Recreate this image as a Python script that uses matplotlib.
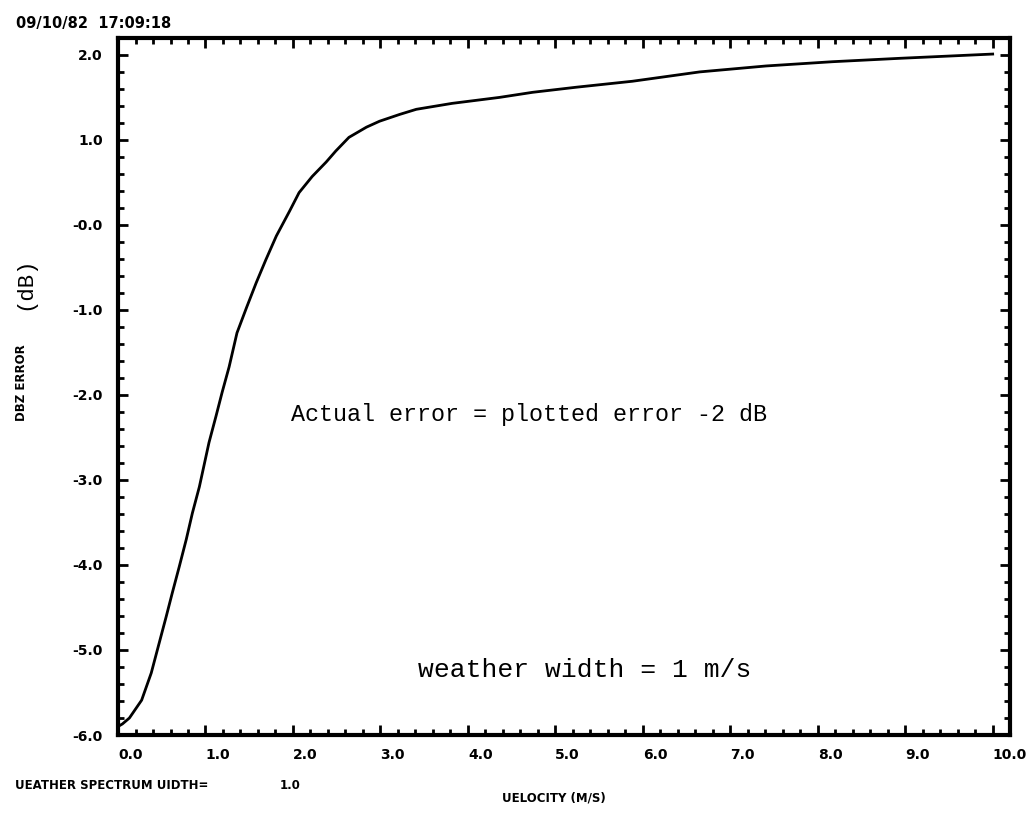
import numpy as np
import matplotlib
matplotlib.use("Agg")
import matplotlib.pyplot as plt
from matplotlib.ticker import MultipleLocator

# curve: velocity (m/s) vs DBZ error (dB)
velocity = [0.0, 0.05, 0.13, 0.27, 0.38, 0.47, 0.55, 0.62, 0.70, 0.78, 0.85,
            0.93, 1.04, 1.12, 1.19, 1.27, 1.36, 1.47, 1.58, 1.69, 1.81, 1.96,
            2.07, 2.22, 2.38, 2.49, 2.64, 2.84, 2.99, 3.22, 3.41, 3.82, 4.36,
            4.74, 5.24, 5.88, 6.65, 7.41, 8.17, 8.94, 10.0]
dbz_error = [-5.90, -5.87, -5.80, -5.59, -5.27, -4.92, -4.61, -4.33, -4.02,
             -3.70, -3.39, -3.08, -2.56, -2.25, -1.97, -1.67, -1.27, -0.97,
             -0.68, -0.41, -0.13, 0.16, 0.38, 0.57, 0.74, 0.87, 1.03, 1.15,
             1.22, 1.30, 1.36, 1.43, 1.50, 1.56, 1.62, 1.69, 1.80, 1.87, 1.92,
             1.96, 2.01]

x_ticks = [0, 1, 2, 3, 4, 5, 6, 7, 8, 9, 10]
x_labels = ["0.0", "1.0", "2.0", "3.0", "4.0", "5.0", "6.0", "7.0", "8.0", "9.0", "10.0"]
y_ticks = [2, 1, 0, -1, -2, -3, -4, -5, -6]
y_labels = ["2.0", "1.0", "-0.0", "-1.0", "-2.0", "-3.0", "-4.0", "-5.0", "-6.0"]

fig = plt.figure(figsize=(10.29, 8.24), dpi=100)
ax = fig.add_axes([0.1147, 0.108, 0.867, 0.846])

ax.plot(velocity, dbz_error, color="black", linewidth=2)

ax.set_xlim(0, 10.2)
ax.set_ylim(-6.0, 2.2)

tick_font = dict(fontsize=10, fontweight="bold", family="DejaVu Sans")
ax.set_xticks(x_ticks)
ax.set_xticklabels(x_labels, ha="left", **tick_font)
ax.set_yticks(y_ticks)
ax.set_yticklabels(y_labels, **tick_font)
ax.xaxis.set_minor_locator(MultipleLocator(0.2))
ax.yaxis.set_minor_locator(MultipleLocator(0.2))
ax.tick_params(which="both", direction="in", top=True, right=True, width=2, color="black")
ax.tick_params(which="major", length=7)
ax.tick_params(axis="x", which="major", pad=9)
ax.tick_params(axis="y", which="major", pad=11)
ax.tick_params(which="minor", length=4)
for s in ax.spines.values():
    s.set_linewidth(3)

# annotations on the plot
ax.text(4.70, -2.23, "Actual error = plotted error -2 dB", fontsize=16.8,
        family="Liberation Mono", ha="center", va="center")
ax.text(5.34, -5.23, "weather width = 1 m/s", fontsize=19,
        family="Liberation Mono", ha="center", va="center")

# labels around the frame
fig.text(0.016, 0.972, "09/10/82  17:09:18", fontsize=10.5, fontweight="bold",
         ha="left", va="center")
fig.text(0.021, 0.536, "DBZ ERROR", fontsize=8.5, fontweight="bold",
         rotation=90, ha="center", va="center")
fig.text(0.024, 0.656, "(dB)", fontsize=16, family="Liberation Mono",
         rotation=90, ha="center", va="center")
fig.text(0.015, 0.047, "UEATHER SPECTRUM UIDTH=", fontsize=8.5, fontweight="bold",
         ha="left", va="center")
fig.text(0.272, 0.047, "1.0", fontsize=8.5, fontweight="bold", ha="left", va="center")
fig.text(0.538, 0.032, "UELOCITY (M/S)", fontsize=8.5, fontweight="bold",
         ha="center", va="center")

fig.savefig("out.png", dpi=100)
